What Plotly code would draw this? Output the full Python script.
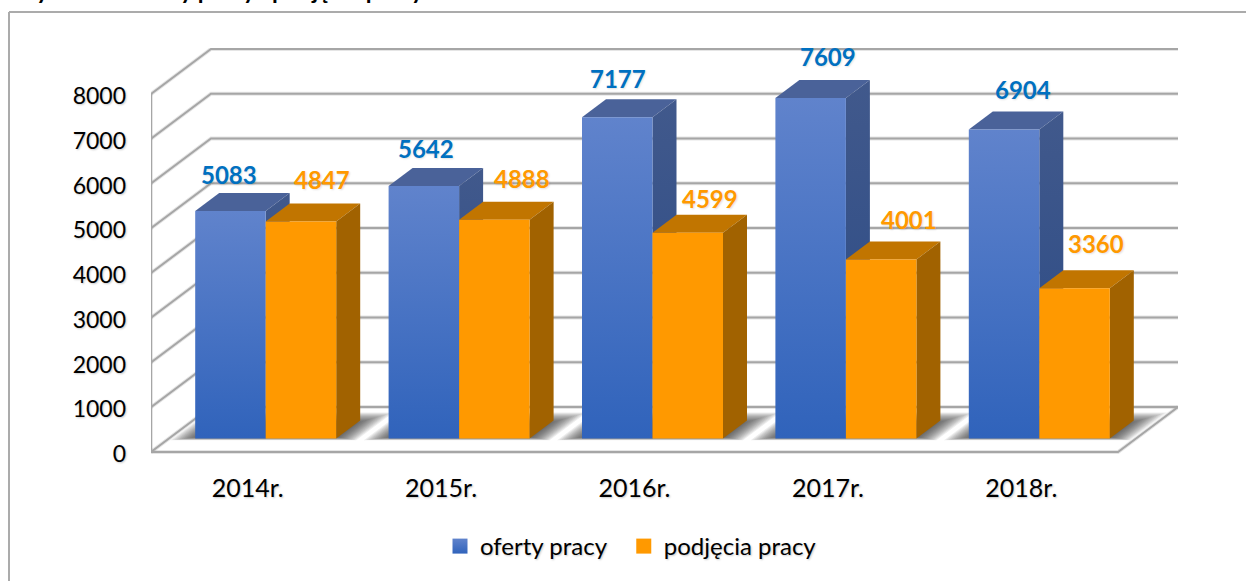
import plotly.graph_objects as go

# ---- data ----
categories = ["2014r.", "2015r.", "2016r.", "2017r.", "2018r."]
oferty_pracy = [5083, 5642, 7177, 7609, 6904]
podjecia_pracy = [4847, 4888, 4599, 4001, 3360]
y_ticks = [0, 1000, 2000, 3000, 4000, 5000, 6000, 7000, 8000]
series_names = ["oferty pracy", "podjęcia pracy"]
title_text = "Wykres 9. Oferty pracy i podjęcia pracy w latach 2014 – 2018"

# ---- label nudges in pixels (relative to the front top centre of each bar) ----
nudge_blue = [(-1, -37), (2, -38), (1, -39), (17, -42), (19, -40)]
nudge_orange = [(21, -42), (28, -41), (22, -34), (28, -40), (21, -45)]

# ---- projection ----
W, H = 1246, 581
L, R, T, B = 151, 1178, 48, 452       # value 0 sits at page row B
DROP_PX = 2                           # tick text sits this far below its level (font metrics)
BP = B + DROP_PX                      # bottom of the plot rectangle
PX_X = 193.4                          # pixels per category
PX_Y = 0.04475                        # pixels per value unit
DX, DY = 60 / PX_X, 45 / PX_Y         # full depth of the floor in data units
BAR_D0, BAR_D1 = 0.30, 0.70           # depth at which the bars start / end
BAR_W = 70.5 / PX_X
TICK_TEXT_DROP = DROP_PX / PX_Y
FONT = "Lato, Carlito, Calibri, sans-serif"
TXT_SHADOW = "1px 1px 2px rgba(0,0,0,0.22)"
LABEL_SHADOW = "1px 1px 2px rgba(0,0,0,0.12)"
GRID = "#A6A6A6"


def proj(x, v, d):
    return x + d * DX, v + d * DY


fig = go.Figure()


def poly(pts, fill=None, gradient=None):
    xs = [p[0] for p in pts] + [pts[0][0]]
    ys = [p[1] for p in pts] + [pts[0][1]]
    kw = dict(fillgradient=gradient) if gradient else dict(fillcolor=fill)
    fig.add_trace(go.Scatter(x=xs, y=ys, mode="lines", fill="toself",
                             line=dict(width=0), showlegend=False,
                             hoverinfo="skip", **kw))


# ---- walls and floor ----
wx, wy = [], []
for v in y_ticks:
    a = proj(0, v, 0)
    b = proj(0, v, 1)
    c = proj(5, v, 1)
    wx += [a[0], b[0], c[0], None]
    wy += [a[1], b[1], c[1], None]
f0, f1 = proj(0, 0, 0), proj(5, 0, 0)
f2 = proj(5, 0, 1)
wx += [f0[0], f1[0], f2[0], None, 0, 0]
wy += [f0[1], f1[1], f2[1], None, 0, y_ticks[-1]]
fig.add_trace(go.Scatter(x=wx, y=wy, mode="lines", showlegend=False, hoverinfo="skip",
                         line=dict(color="rgba(0,0,0,0.10)", width=4)))
fig.add_trace(go.Scatter(x=wx, y=wy, mode="lines", showlegend=False, hoverinfo="skip",
                         line=dict(color=GRID, width=2)))

# ---- blurred floor shadow ----
LAYERS = 14
for i in range(len(categories)):
    for k in range(LAYERS):
        s = k / LAYERS
        x0, x1 = i + 0.02 + 0.13 * s, i + 0.98 - 0.13 * s
        d0, d1 = 0.26 + 0.08 * s, 0.88 - 0.26 * s
        poly([proj(x0, 0, d0), proj(x1, 0, d0), proj(x1, 0, d1), proj(x0, 0, d1)],
             fill="rgba(50,50,50,0.085)")


# ---- bars, back to front ----
def vgrad(c_low, c_high):
    return dict(type="vertical", colorscale=[[0, c_low], [1, c_high]])


def bar(x0, value, front, side, top):
    x1 = x0 + BAR_W
    a = proj(x0, 0, BAR_D0)
    b = proj(x1, 0, BAR_D0)
    c = proj(x1, value, BAR_D0)
    d = proj(x0, value, BAR_D0)
    b2 = proj(x1, 0, BAR_D1)
    c2 = proj(x1, value, BAR_D1)
    d2 = proj(x0, value, BAR_D1)
    poly([d, c, c2, d2], **top)
    poly([b, b2, c2, c], **side)
    poly([a, b, c, d], **front)


annots = []
for i, cat in enumerate(categories):
    xb = i + 0.5 - BAR_W
    xo = i + 0.5
    bar(xb, oferty_pracy[i],
        dict(gradient=vgrad("#3063BB", "#6083CC")),
        dict(gradient=vgrad("#2A4A85", "#41598C")),
        dict(fill="#4A6299"))
    bar(xo, podjecia_pracy[i],
        dict(fill="#FF9900"),
        dict(fill="#A16200"),
        dict(fill="#C17500"))
    for x0, val, nud, col in ((xb, oferty_pracy[i], nudge_blue[i], "#0070C0"),
                              (xo, podjecia_pracy[i], nudge_orange[i], "#FF9900")):
        px, py = proj(x0 + BAR_W / 2, val, BAR_D0)
        annots.append(dict(x=px, y=py, xref="x", yref="y", text=str(val), showarrow=False,
                           xshift=nud[0], yshift=-nud[1], xanchor="center", yanchor="middle",
                           font=dict(family=FONT, size=24, color=col, weight="bold",
                                     shadow=LABEL_SHADOW)))

# ---- legend entries (trailing no-break spaces only widen the entry spacing) ----
fig.add_trace(go.Scatter(x=[None], y=[None], mode="markers", name=series_names[0] + "\u00a0\u00a0",
                         marker=dict(symbol="square", size=15, color="#6083CC",
                                     gradient=dict(type="vertical", color="#3063BB"))))
fig.add_trace(go.Scatter(x=[None], y=[None], mode="markers", name=series_names[1],
                         marker=dict(symbol="square", size=15, color="#FF9900")))

fx = lambda px: (px - L) / (R - L)
fy = lambda py: (BP - py) / (BP - T)

# ---- cut-off title above the frame ----
annots.append(dict(x=fx(10), y=fy(0), xref="paper", yref="paper",
                   xanchor="left", yanchor="bottom", text="<b>" + title_text + "</b>", showarrow=False,
                   yshift=-6, font=dict(family=FONT, size=23.5, color="#000000", shadow="none")))

frame = [dict(type="line", xref="paper", yref="paper", x0=fx(9), x1=fx(9), y0=fy(12), y1=fy(590),
              line=dict(color="#ABABAB", width=2)),
         dict(type="line", xref="paper", yref="paper", x0=fx(9), x1=fx(1250), y0=fy(12), y1=fy(12),
              line=dict(color="#ABABAB", width=2))]

fig.update_layout(
    width=W, height=H, autosize=False,
    margin=dict(l=L, r=W - R, t=T, b=H - BP, autoexpand=False, pad=0),
    paper_bgcolor="white", plot_bgcolor="rgba(0,0,0,0)",
    font=dict(family=FONT, size=23, color="#000000", shadow=TXT_SHADOW),
    showlegend=True,
    legend=dict(orientation="h", x=fx(440), y=fy(524), xanchor="left", yanchor="top",
                bgcolor="rgba(0,0,0,0)",
                font=dict(family=FONT, size=24, color="#000000", shadow=TXT_SHADOW)),
    xaxis=dict(range=[0, (R - L) / PX_X], showgrid=False, zeroline=False, showline=False,
               tickmode="array", tickvals=[i + 0.5 for i in range(len(categories))],
               ticktext=categories, ticks="", ticklabelstandoff=17, fixedrange=True,
               tickfont=dict(family=FONT, size=25, color="#000000", shadow=TXT_SHADOW)),
    yaxis=dict(range=[-TICK_TEXT_DROP, (B - T) / PX_Y],
               showgrid=False, zeroline=False, showline=False,
               tickmode="array", tickvals=[v - TICK_TEXT_DROP for v in y_ticks],
               ticktext=[str(v) for v in y_ticks],
               ticks="", ticklabelstandoff=24, fixedrange=True),
    annotations=annots,
    shapes=frame,
)

fig.write_html("out.html", config=dict(displayModeBar=False),
               post_script="document.body.style.margin='0';document.body.style.overflow='hidden';")
